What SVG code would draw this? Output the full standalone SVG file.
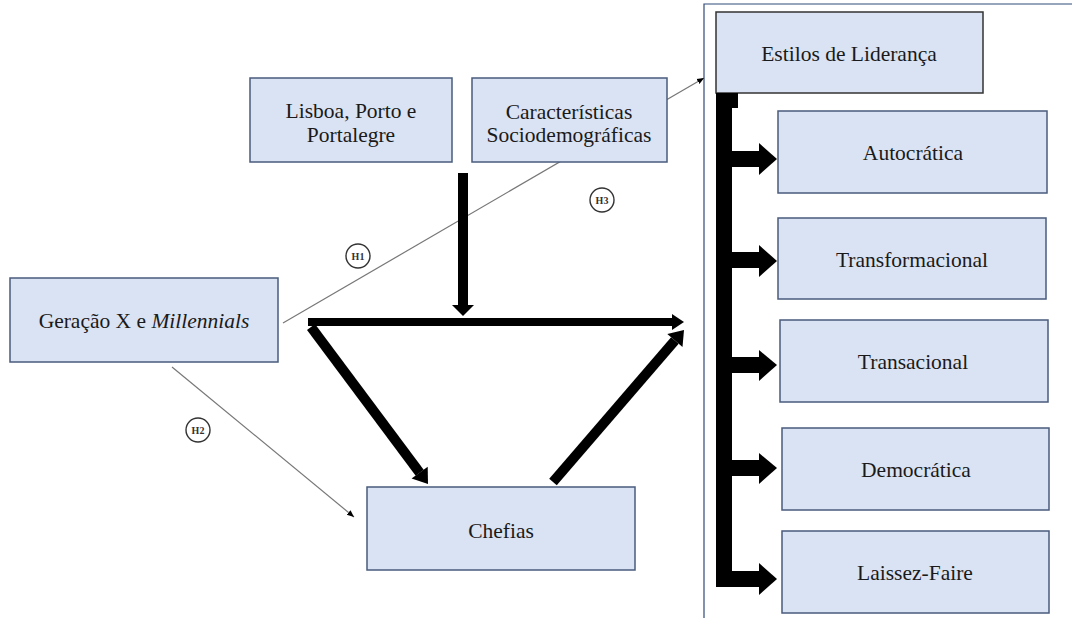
<svg xmlns="http://www.w3.org/2000/svg" width="1072" height="618" viewBox="0 0 1072 618">
<style>
.box{fill:#DAE3F3;stroke:#4A5B7C;stroke-width:1.5}
.t{font-family:"Liberation Serif","Times New Roman",serif;font-size:21.5px;fill:#1a1a1a;text-anchor:middle}
.thin{stroke:#777;stroke-width:1.2;fill:none}
.thick{stroke:#000;fill:none;stroke-linecap:butt}
.hc{fill:#fff;stroke:#333;stroke-width:1.4}
.ht{font-family:"Liberation Serif","Times New Roman",serif;font-size:10px;font-weight:bold;fill:#333;text-anchor:middle}
</style>
<defs>
<marker id="sm" markerWidth="8" markerHeight="8" refX="7" refY="4" orient="auto" markerUnits="userSpaceOnUse">
<path d="M0,1 L7,4 L0,7 z" fill="#000"/>
</marker>
</defs>
<rect width="1072" height="618" fill="#fff"/>
<g id="frame">
<path d="M704,618 V4 H1072" fill="none" stroke="#2F4A7A" stroke-width="1.2"/>
</g>
<g id="connectors">
<line class="thin" x1="283" y1="323" x2="704" y2="78" marker-end="url(#sm)"/>
<line class="thin" x1="172" y1="367" x2="354" y2="517" marker-end="url(#sm)"/>
</g>
<g id="lisboa"><rect class="box" x="250" y="78" width="202" height="84"/>
<text class="t" x="351" y="118">Lisboa, Porto e</text><text class="t" x="351" y="142">Portalegre</text></g>
<g id="caracteristicas"><rect class="box" x="472" y="78" width="195" height="84"/>
<text class="t" x="569" y="119">Características</text><text class="t" x="569" y="142">Sociodemográficas</text></g>
<g id="geracao"><rect class="box" x="10" y="278" width="268" height="84"/>
<text class="t" x="144" y="328">Geração X e <tspan font-style="italic">Millennials</tspan></text></g>
<g id="chefias"><rect class="box" x="367" y="487" width="268" height="83"/>
<text class="t" x="501" y="538">Chefias</text></g>
<g id="estilos"><rect class="box" x="716" y="12" width="267" height="81" style="stroke:#333"/>
<text class="t" x="849" y="61">Estilos de Liderança</text></g>
<g id="autocratica"><rect class="box" x="778" y="111" width="269" height="82"/>
<text class="t" x="913" y="160">Autocrática</text></g>
<g id="transformacional"><rect class="box" x="778" y="218" width="268" height="81"/>
<text class="t" x="912" y="267">Transformacional</text></g>
<g id="transacional"><rect class="box" x="780" y="320" width="268" height="82"/>
<text class="t" x="913" y="369">Transacional</text></g>
<g id="democratica"><rect class="box" x="782" y="428" width="267" height="82"/>
<text class="t" x="916" y="477">Democrática</text></g>
<g id="laissez"><rect class="box" x="782" y="531" width="267" height="82"/>
<text class="t" x="915" y="580">Laissez-Faire</text></g>
<g id="thick-connectors">
<line class="thick" x1="463" y1="173" x2="463" y2="306" stroke-width="10"/>
<polygon points="452,305 474,305 463,316" fill="#000"/>
<line class="thick" x1="308" y1="322" x2="674" y2="322" stroke-width="8"/>
<polygon points="672,314 684,322 672,330" fill="#000"/>
<line class="thick" x1="311" y1="327" x2="419.7" y2="472.7" stroke-width="10"/>
<polygon points="411.6,478.6 427.7,466.8 428,484" fill="#000"/>
<line class="thick" x1="553" y1="482" x2="674.9" y2="340.6" stroke-width="10"/>
<polygon points="682.5,347.1 667.3,334.1 684,330" fill="#000"/>
</g>
<g id="bracket" fill="#000">
<rect x="716" y="93" width="16" height="494"/>
<rect x="716" y="93" width="22" height="15"/>
<rect x="731" y="151" width="29" height="16"/><polygon points="759,143 777,159 759,175"/>
<rect x="731" y="252" width="29" height="16"/><polygon points="759,245 777,261 759,277"/>
<rect x="731" y="357" width="29" height="16"/><polygon points="759,350 777,365 759,381"/>
<rect x="731" y="460" width="29" height="16"/><polygon points="759,453 777,468 759,484"/>
<rect x="731" y="571" width="29" height="16"/><polygon points="759,563 777,579 759,595"/>
</g>
<g id="h1"><circle class="hc" cx="358" cy="256" r="12"/><text class="ht" x="358" y="259.5">H1</text></g>
<g id="h2"><circle class="hc" cx="198" cy="430" r="12"/><text class="ht" x="198" y="433.5">H2</text></g>
<g id="h3"><circle class="hc" cx="602" cy="200" r="12"/><text class="ht" x="602" y="203.5">H3</text></g>
</svg>
